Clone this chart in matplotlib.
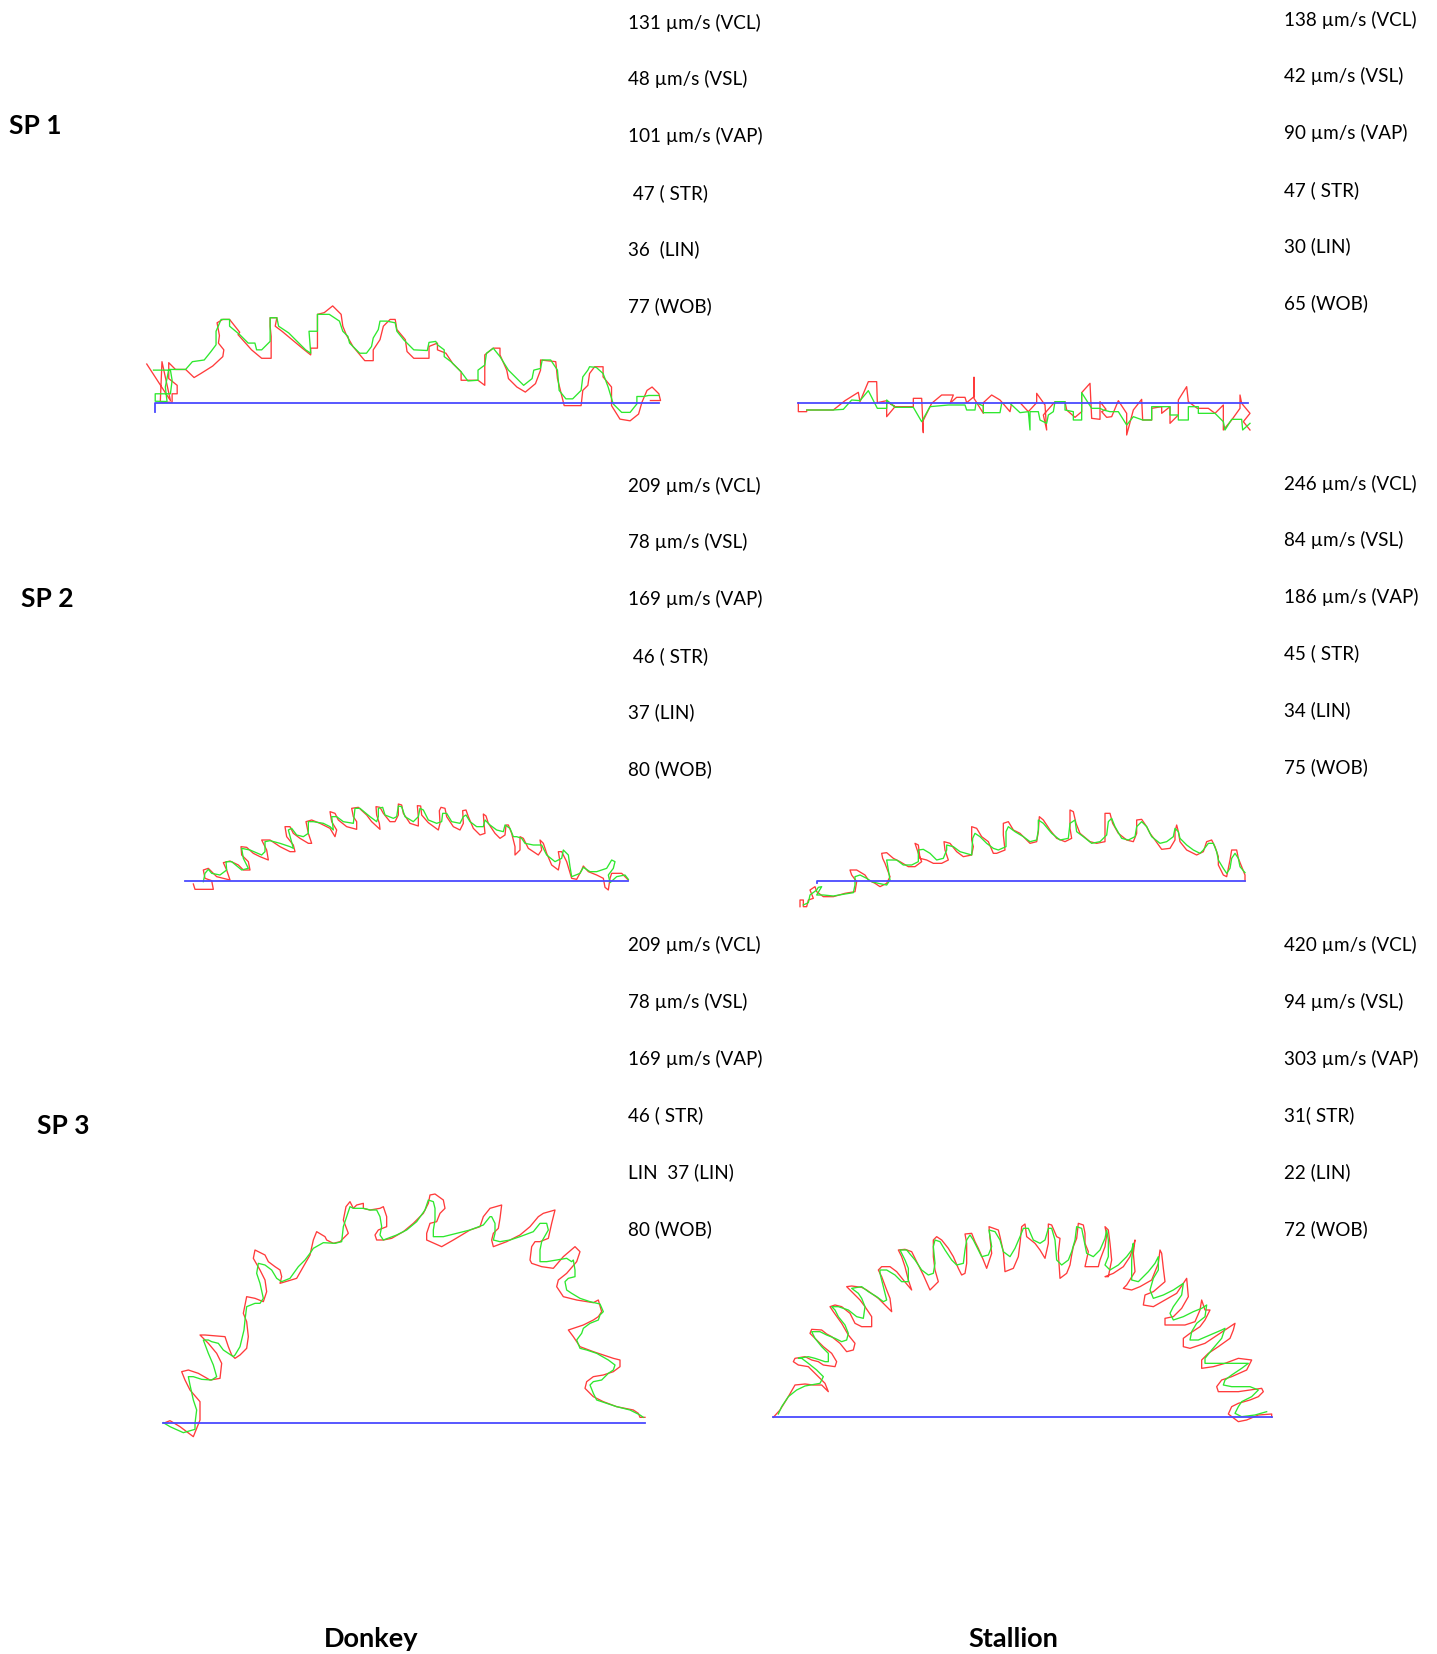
import matplotlib.pyplot as plt

plt.rcParams['font.family'] = ['Lato', 'DejaVu Sans']

W, H = 1437, 1654

# motility values printed next to each track
donkey_sp1 = ["131 µm/s (VCL)", "48 µm/s (VSL)", "101 µm/s (VAP)", " 47 ( STR)", "36  (LIN)", "77 (WOB)"]
stallion_sp1 = ["138 µm/s (VCL)", "42 µm/s (VSL)", "90 µm/s (VAP)", "47 ( STR)", "30 (LIN)", "65 (WOB)"]
donkey_sp2 = ["209 µm/s (VCL)", "78 µm/s (VSL)", "169 µm/s (VAP)", " 46 ( STR)", "37 (LIN)", "80 (WOB)"]
stallion_sp2 = ["246 µm/s (VCL)", "84 µm/s (VSL)", "186 µm/s (VAP)", "45 ( STR)", "34 (LIN)", "75 (WOB)"]
donkey_sp3 = ["209 µm/s (VCL)", "78 µm/s (VSL)", "169 µm/s (VAP)", "46 ( STR)", "LIN  37 (LIN)", "80 (WOB)"]
stallion_sp3 = ["420 µm/s (VCL)", "94 µm/s (VSL)", "303 µm/s (VAP)", "31( STR)", "22 (LIN)", "72 (WOB)"]

row_labels = ["SP 1", "SP 2", "SP 3"]
col_labels = ["Donkey", "Stallion"]

# track coordinates (image units, y down) : VCL red, VAP green, VSL blue
d1_vcl = [(20,222),(90,330),(65,215),(60,335),(95,335),(95,310),(110,310),(110,285),(85,265),(85,218),(105,238),(135,238),(160,262),(180,250),(215,228),(245,200),(248,180),(232,160),(235,138),(228,100),(245,90),(265,90),(295,128),(290,135),(330,180),(360,205),(388,205),(388,140),(385,110),(385,85),(405,85),(400,110),(420,125),(450,150),(480,175),(505,195),(505,175),(525,175),(525,150),(525,75),(545,70),(570,50),(595,75),(600,110),(610,135),(630,170),(665,212),(690,212),(690,180),(710,150),(720,110),(740,90),(755,90),(760,120),(785,150),(790,185),(810,205),(855,205),(855,170),(880,160),(880,180),(905,190),(925,220),(950,245),(950,270),(1000,270),(1020,285),(1020,195),(1045,175),(1065,175),(1065,195),(1085,240),(1090,265),(1115,290),(1140,305),(1170,280),(1185,240),(1185,210),(1230,215),(1235,265),(1255,345),(1305,345),(1310,300),(1325,285),(1330,250),(1345,230),(1370,230),(1370,260),(1395,290),(1395,345),(1420,385),(1450,390),(1475,370),(1485,335),(1500,300),(1515,290),(1535,310),(1540,330),(1510,330)]
d1_vap = [(40,240),(90,240),(95,270),(90,310),(45,310),(45,332),(80,333),(75,290),(85,238),(135,238),(155,215),(190,210),(210,185),(225,165),(225,125),(240,90),(265,90),(265,110),(295,135),(320,160),(340,160),(345,180),(360,180),(385,155),(385,85),(405,85),(410,110),(440,130),(470,160),(490,180),(505,190),(500,125),(525,125),(525,75),(560,75),(590,95),(600,125),(615,140),(620,160),(650,190),(670,190),(685,170),(690,145),(705,120),(710,95),(730,95),(755,100),(760,125),(780,150),(810,180),(850,182),(855,158),(875,155),(880,165),(900,180),(900,200),(920,215),(950,245),(970,272),(1000,270),(1000,240),(1020,225),(1025,190),(1045,175),(1065,200),(1090,240),(1110,260),(1135,285),(1160,265),(1165,240),(1185,235),(1190,210),(1215,210),(1235,240),(1240,300),(1260,325),(1280,325),(1305,300),(1310,260),(1325,240),(1330,230),(1350,232),(1370,250),(1385,290),(1400,340),(1425,365),(1450,365),(1470,340),(1470,318),(1490,318),(1505,315),(1535,315)]
d1_vsl = [(45,365),(45,338),(1535,338)]

s1_vcl = [(25,128),(25,155),(50,155),(50,150),(130,150),(165,122),(205,97),(210,125),(235,65),(260,65),(262,128),(290,122),(315,140),(290,170),(290,125),(315,140),(370,140),(370,115),(395,115),(400,218),(398,185),(425,130),(455,105),(490,105),(480,130),(500,112),(525,112),(530,128),(552,110),(552,52),(552,115),(580,160),(580,128),(605,105),(630,120),(660,155),(665,128),(690,128),(715,155),(740,128),(740,100),(765,135),(770,210),(760,165),(795,125),(825,125),(830,150),(855,172),(875,155),(875,98),(900,70),(905,175),(930,178),(930,125),(948,148),(935,155),(950,172),(965,170),(985,122),(1010,160),(1010,225),(1030,150),(1055,118),(1058,180),(1085,180),(1085,145),(1115,140),(1115,160),(1140,140),(1140,190),(1165,165),(1165,120),(1190,80),(1195,125),(1222,145),(1255,145),(1275,160),(1300,135),(1300,210),(1325,180),(1350,145),(1350,105),(1355,130),(1380,160),(1360,185),(1380,210)]
s1_vap = [(50,150),(130,150),(160,148),(185,120),(210,122),(235,92),(262,145),(290,145),(290,120),(315,142),(370,142),(395,185),(420,140),(475,135),(480,135),(525,135),(530,150),(555,150),(558,128),(580,138),(580,158),(630,158),(635,130),(660,130),(690,158),(715,155),(720,210),(720,155),(745,155),(750,180),(770,190),(775,165),(790,155),(795,125),(825,125),(825,150),(850,155),(850,180),(875,180),(875,98),(905,145),(930,145),(940,150),(960,155),(985,155),(1010,195),(1030,170),(1058,180),(1085,180),(1085,140),(1140,140),(1140,165),(1165,165),(1165,180),(1195,180),(1195,140),(1225,140),(1225,160),(1275,160),(1300,185),(1305,210),(1325,178),(1355,178),(1358,210),(1380,190)]
s1_vsl = [(25,128),(1375,128)]

d2_vcl = [(40,282),(45,298),(100,298),(95,272),(75,265),(70,240),(85,235),(110,260),(150,270),(140,240),(130,218),(150,213),(175,225),(190,240),(210,240),(205,215),(185,195),(183,170),(200,172),(220,190),(240,200),(265,210),(260,180),(250,160),(245,150),(270,150),(300,170),(330,185),(345,185),(340,165),(320,140),(315,110),(330,110),(340,130),(360,145),(385,160),(395,160),(385,130),(378,95),(395,90),(420,100),(450,115),(465,140),(470,120),(455,95),(450,65),(465,70),(475,90),(500,110),(530,118),(530,95),(520,80),(515,55),(535,52),(560,75),(575,95),(600,118),(598,100),(590,75),(588,50),(600,52),(610,70),(630,95),(645,95),(655,75),(655,42),(665,45),(670,70),(690,100),(715,108),(715,80),(712,47),(722,48),(725,75),(745,98),(775,120),(780,100),(778,62),(783,52),(795,55),(800,80),(820,110),(840,120),(850,100),(848,62),(858,60),(865,80),(880,115),(900,135),(915,130),(912,100),(910,72),(918,78),(925,100),(945,130),(960,145),(975,135),(978,105),(985,105),(995,130),(1005,170),(1005,195),(1020,180),(1020,140),(1030,145),(1045,175),(1075,195),(1085,180),(1080,150),(1090,160),(1100,190),(1115,225),(1135,240),(1140,215),(1135,185),(1145,185),(1160,215),(1175,265),(1190,268),(1205,240),(1210,228),(1225,245),(1250,255),(1270,265),(1275,292),(1285,300),(1290,265),(1295,250),(1325,250),(1345,270)]
d2_vap = [(70,275),(75,250),(85,238),(95,250),(120,255),(140,240),(138,215),(155,215),(185,240),(205,235),(190,205),(185,175),(210,180),(245,195),(255,185),(255,155),(270,152),(300,160),(330,170),(340,175),(325,120),(335,115),(350,135),(370,140),(385,130),(385,95),(400,95),(430,100),(450,110),(460,120),(455,80),(470,80),(490,95),(520,100),(525,55),(540,55),(570,80),(590,95),(595,80),(595,55),(608,52),(615,75),(640,85),(650,80),(655,48),(665,50),(675,80),(700,95),(715,80),(720,55),(730,60),(745,90),(770,100),(785,95),(788,70),(800,70),(815,95),(840,100),(850,80),(858,75),(870,95),(890,110),(910,110),(915,90),(930,105),(950,120),(970,125),(975,105),(990,115),(1000,140),(1010,140),(1025,145),(1035,160),(1060,165),(1085,165),(1090,175),(1100,195),(1125,215),(1145,205),(1150,180),(1165,195),(1170,230),(1175,260),(1200,250),(1210,232),(1230,245),(1250,245),(1280,235),(1295,210),(1305,215),(1300,235),(1285,255),(1290,278),(1310,260),(1335,255),(1345,268)]
d2_vsl = [(15,272),(1345,272)]

s2_vcl = [(30,320),(30,300),(40,300),(40,320),(50,320),(55,300),(70,295),(60,270),(75,260),(80,275),(100,290),(130,290),(165,280),(195,275),(200,245),(185,225),(180,210),(200,210),(225,225),(235,240),(255,250),(270,260),(290,250),(300,230),(285,190),(278,175),(275,160),(290,158),(310,175),(330,185),(355,200),(375,200),(395,185),(385,160),(375,130),(385,135),(390,175),(410,180),(430,190),(455,190),(475,180),(465,150),(462,125),(480,130),(500,155),(520,170),(545,165),(550,140),(545,120),(545,80),(560,85),(575,110),(595,125),(610,160),(620,160),(645,150),(640,105),(640,70),(655,65),(670,90),(690,100),(720,130),(740,125),(745,95),(748,50),(760,60),(780,90),(800,115),(825,125),(845,115),(840,85),(840,30),(850,35),(858,70),(870,100),(900,125),(920,130),(945,125),(945,90),(945,40),(960,40),(968,70),(985,100),(1010,120),(1030,125),(1040,100),(1040,60),(1055,58),(1070,80),(1080,100),(1095,120),(1115,148),(1140,145),(1155,120),(1155,95),(1160,75),(1165,95),(1170,125),(1190,150),(1220,165),(1240,155),(1250,125),(1265,120),(1275,140),(1285,170),(1285,195),(1300,225),(1310,230),(1320,180),(1325,150),(1340,150),(1345,175),(1355,200),(1365,225),(1365,243)]
s2_vap = [(40,315),(55,308),(60,285),(80,270),(85,262),(95,260),(80,285),(100,285),(130,288),(165,282),(190,278),(195,255),(195,230),(210,225),(230,235),(245,245),(265,250),(290,255),(300,240),(295,210),(290,180),(310,180),(320,180),(340,195),(365,195),(385,185),(385,150),(400,148),(420,160),(440,180),(460,175),(470,150),(470,135),(490,140),(510,155),(545,165),(548,115),(555,100),(570,110),(590,130),(610,145),(625,150),(648,140),(648,95),(655,80),(675,95),(700,110),(720,125),(740,120),(745,90),(745,60),(760,70),(785,100),(810,120),(835,115),(840,70),(855,60),(860,95),(880,110),(905,130),(930,125),(950,105),(955,65),(965,55),(975,80),(995,115),(1015,120),(1035,110),(1040,80),(1055,65),(1070,80),(1085,110),(1110,130),(1130,125),(1150,110),(1155,85),(1165,95),(1170,115),(1190,135),(1210,150),(1230,160),(1240,150),(1255,130),(1270,130),(1280,155),(1285,180),(1300,205),(1310,220),(1320,205),(1325,175),(1335,160),(1345,175),(1350,200),(1365,218)]
s2_vsl = [(80,250),(80,243),(1365,243)]

d3_vcl = [(45,728),(60,722),(90,740),(130,770),(150,720),(150,665),(120,630),(105,600),(95,575),(115,570),(145,580),(180,600),(210,595),(215,550),(200,520),(175,490),(150,465),(165,465),(225,470),(235,500),(245,525),(255,535),(270,525),(290,505),(295,470),(290,425),(280,400),(290,350),(315,355),(340,365),(350,335),(345,300),(330,270),(310,235),(315,210),(345,225),(355,245),(375,260),(390,270),(395,290),(390,310),(440,295),(480,225),(490,180),(500,155),(525,170),(530,180),(550,190),(570,185),(595,160),(580,120),(588,80),(600,65),(610,85),(620,75),(640,70),(640,85),(660,90),(690,85),(700,80),(710,110),(710,140),(685,150),(675,165),(680,180),(700,180),(725,175),(760,155),(790,130),(820,100),(835,70),(840,45),(855,42),(880,60),(885,85),(870,100),(860,125),(840,130),(830,160),(830,180),(875,200),(910,180),(960,150),(990,140),(1000,110),(1020,85),(1055,75),(1050,115),(1045,145),(1030,160),(1025,180),(1030,200),(1070,185),(1110,165),(1140,140),(1165,110),(1180,100),(1215,90),(1205,130),(1195,175),(1170,185),(1155,185),(1145,200),(1140,240),(1145,250),(1175,260),(1210,265),(1240,230),(1275,200),(1290,215),(1280,245),(1250,280),(1225,300),(1220,320),(1240,350),(1280,360),(1330,368),(1345,360),(1355,395),(1345,410),(1330,420),(1300,435),(1255,450),(1270,470),(1290,500),(1330,515),(1390,535),(1410,540),(1410,560),(1390,575),(1360,585),(1330,590),(1310,605),(1305,625),(1330,650),(1360,665),(1400,680),(1450,690),(1465,700),(1470,712),(1485,712)]
d3_vap = [(40,728),(60,740),(100,758),(135,748),(135,730),(140,690),(130,660),(120,615),(115,590),(130,590),(155,598),(185,600),(200,590),(190,555),(175,520),(160,480),(175,480),(185,485),(205,490),(220,510),(235,520),(250,530),(255,525),(270,500),(282,450),(285,420),(290,380),(315,370),(330,370),(340,355),(330,310),(320,280),(325,250),(345,255),(365,270),(380,295),(395,305),(420,295),(445,260),(465,240),(480,220),(490,205),(520,188),(555,190),(575,185),(580,140),(590,110),(595,95),(600,80),(610,85),(640,85),(660,90),(680,90),(690,110),(695,140),(690,165),(700,180),(740,165),(770,150),(800,125),(825,90),(835,60),(850,65),(855,85),(855,100),(855,120),(850,150),(850,170),(880,170),(920,160),(960,150),(1000,135),(1020,110),(1025,110),(1035,130),(1035,160),(1030,180),(1050,185),(1080,180),(1110,170),(1150,155),(1170,130),(1190,130),(1195,150),(1175,185),(1170,210),(1170,245),(1190,245),(1220,240),(1250,235),(1265,245),(1270,240),(1275,270),(1275,290),(1255,295),(1245,305),(1250,330),(1265,340),(1290,355),(1320,365),(1350,372),(1360,395),(1350,405),(1345,420),(1320,430),(1300,445),(1295,460),(1280,480),(1290,505),(1310,510),(1340,520),(1375,540),(1395,555),(1390,570),(1375,580),(1355,600),(1330,605),(1320,615),(1330,640),(1340,660),(1370,670),(1400,680),(1440,690),(1470,705),(1480,712)]
d3_vsl = [(40,728),(1485,728)]

s3_vcl = [(25,622),(45,600),(70,560),(90,525),(120,522),(145,525),(170,525),(190,545),(180,520),(155,495),(130,470),(100,465),(85,455),(90,445),(120,440),(140,450),(160,455),(175,465),(210,470),(215,455),(200,430),(175,410),(155,390),(135,370),(140,358),(170,360),(185,372),(200,380),(225,400),(245,425),(265,420),(270,400),(250,375),(230,340),(205,305),(195,290),(210,285),(230,290),(255,310),(270,340),(290,350),(320,350),(320,320),(300,290),(285,270),(260,245),(245,230),(260,228),(290,232),(305,240),(340,265),(380,305),(375,265),(365,240),(350,200),(340,180),(350,170),(375,170),(395,185),(415,210),(440,240),(430,210),(420,170),(410,140),(400,120),(420,118),(440,125),(460,165),(475,195),(495,240),(520,215),(510,180),(505,140),(505,90),(515,80),(530,90),(550,115),(565,140),(580,175),(590,195),(600,190),(605,160),(605,100),(600,72),(620,70),(630,95),(640,115),(655,150),(665,175),(680,130),(675,85),(672,50),(700,60),(705,80),(715,125),(720,185),(745,175),(760,140),(765,100),(770,50),(780,42),(785,80),(810,100),(825,120),(840,145),(850,100),(850,42),(860,45),(875,80),(885,85),(880,130),(885,205),(905,190),(915,165),(920,135),(925,110),(935,85),(940,40),(955,45),(960,70),(960,100),(970,125),(960,170),(1000,170),(1005,150),(1020,110),(1025,75),(1020,50),(1030,60),(1035,100),(1040,150),(1030,200),(1020,200),(1045,190),(1075,170),(1095,140),(1105,110),(1110,90),(1105,130),(1110,185),(1085,225),(1075,235),(1100,240),(1125,230),(1160,210),(1180,160),(1185,120),(1190,130),(1195,175),(1200,215),(1165,245),(1140,255),(1135,285),(1165,290),(1200,270),(1235,250),(1265,205),(1270,260),(1250,295),(1225,320),(1200,325),(1200,345),(1260,345),(1290,335),(1305,300),(1310,270),(1320,300),(1335,300),(1320,330),(1305,350),(1275,370),(1255,385),(1255,410),(1275,415),(1320,400),(1365,370),(1410,340),(1405,360),(1395,385),(1360,410),(1330,430),(1310,450),(1310,475),(1345,470),(1380,460),(1420,445),(1460,450),(1445,480),(1400,500),(1370,510),(1355,530),(1360,545),(1420,545),(1490,535),(1495,545),(1480,560),(1455,570),(1420,580),(1400,590),(1390,612),(1420,635),(1445,630),(1480,615),(1520,612),(1520,622)]
s3_vap = [(40,612),(50,590),(70,560),(95,540),(120,528),(165,520),(175,500),(155,480),(130,460),(110,445),(100,445),(130,440),(150,445),(180,455),(190,455),(190,430),(170,410),(150,385),(140,365),(165,365),(185,375),(210,385),(230,395),(245,390),(250,370),(240,345),(220,320),(210,300),(200,290),(220,290),(250,300),(275,320),(295,325),(300,290),(290,265),(280,250),(260,235),(290,230),(310,245),(335,260),(355,275),(365,270),(355,230),(345,190),(345,180),(365,180),(390,195),(410,215),(430,215),(430,175),(420,150),(405,120),(425,120),(450,150),(470,180),(490,195),(505,190),(510,160),(505,110),(510,90),(525,95),(540,120),(560,150),(575,165),(595,160),(600,120),(605,90),(615,75),(625,90),(640,120),(650,140),(670,135),(680,110),(672,60),(690,65),(705,90),(715,125),(735,140),(750,115),(765,80),(775,55),(790,55),(805,90),(825,100),(840,90),(850,55),(860,55),(870,90),(875,150),(890,165),(910,150),(920,125),(930,90),(935,50),(950,55),(955,80),(960,105),(965,130),(985,140),(1005,120),(1020,85),(1025,60),(1030,90),(1030,140),(1020,165),(1035,180),(1060,165),(1085,140),(1100,120),(1105,100),(1100,150),(1100,210),(1120,215),(1150,185),(1170,160),(1180,140),(1180,180),(1165,205),(1155,240),(1165,265),(1195,255),(1225,240),(1255,220),(1250,255),(1225,290),(1215,310),(1225,330),(1255,320),(1285,305),(1310,295),(1325,285),(1320,320),(1295,340),(1280,365),(1275,390),(1300,390),(1335,375),(1370,360),(1380,355),(1370,385),(1340,420),(1320,445),(1320,460),(1360,460),(1410,460),(1450,460),(1430,475),(1400,495),(1380,510),(1375,525),(1400,530),(1455,530),(1480,540),(1460,560),(1430,575),(1420,590),(1410,610),(1430,620),(1470,615),(1505,605)]
s3_vsl = [(25,622),(1520,622)]


fig = plt.figure(figsize=(W / 100, H / 100), dpi=100)
fig.patch.set_facecolor("white")


def track_panel(box, vcl, vap, vsl, k=3.0):
    # box = left, top, width, height in image pixels; tracks stored at scale k
    x0, y0, w, h = box
    ax = fig.add_axes([x0 / W, 1 - (y0 + h) / H, w / W, h / H])
    ax.plot([p[0] for p in vcl], [p[1] for p in vcl], color="#ff3b3b", lw=0.95)
    ax.plot([p[0] for p in vap], [p[1] for p in vap], color="#2ee82e", lw=0.95)
    ax.plot([p[0] for p in vsl], [p[1] for p in vsl], color="#4a4aff", lw=1.3)
    ax.set_xlim(0, w * k)
    ax.set_ylim(h * k, 0)
    ax.axis("off")
    return ax


track_panel((140, 289, 530, 140), d1_vcl, d1_vap, d1_vsl, k=1568 / 530)
track_panel((790, 360, 470, 80), s1_vcl, s1_vap, s1_vsl)
track_panel((180, 790, 460, 110), d2_vcl, d2_vap, d2_vsl)
track_panel((790, 800, 470, 110), s2_vcl, s2_vap, s2_vsl)
track_panel((150, 1180, 510, 260), d3_vcl, d3_vap, d3_vsl)
track_panel((765, 1210, 520, 220), s3_vcl, s3_vap, s3_vsl)


def value_block(x, ys, lines):
    for y, s in zip(ys, lines):
        fig.text(x / W, 1 - (y + 2) / H, s, fontsize=13.6, va="center", ha="left")


value_block(628, [21, 77, 134, 191, 247, 304], donkey_sp1)
value_block(1284, [18, 74, 131, 188, 244, 301], stallion_sp1)
value_block(628, [484, 540, 597, 654, 710, 767], donkey_sp2)
value_block(1284, [482, 538, 595, 651, 708, 765], stallion_sp2)
value_block(628, [943, 1000, 1057, 1113, 1170, 1227], donkey_sp3)
value_block(1284, [943, 1000, 1057, 1113, 1170, 1227], stallion_sp3)

for (x, y), s in zip([(9, 126), (21, 599), (37, 1126)], row_labels):
    fig.text(x / W, 1 - y / H, s, fontsize=19, fontweight="bold", va="center", ha="left")

for (x, y), s in zip([(371, 1639), (1013, 1639)], col_labels):
    fig.text(x / W, 1 - y / H, s, fontsize=19.5, fontweight="bold", va="center", ha="center")

fig.savefig("out.png", dpi=100)
